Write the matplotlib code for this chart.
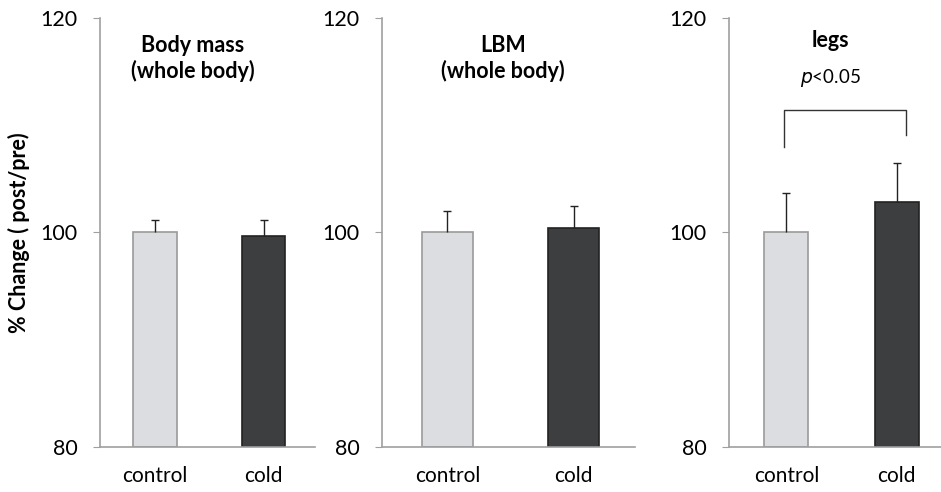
import matplotlib.pyplot as plt

plt.rcParams['font.family'] = ['Lato', 'DejaVu Sans']

# data
groups = ['control', 'cold']
panel_titles = ['Body mass\n(whole body)', 'LBM\n(whole body)', 'legs']
control_mean = [100.0, 100.0, 100.0]
cold_mean = [99.7, 100.45, 102.8]
control_err = [1.2, 2.0, 3.65]
cold_err = [1.45, 2.05, 3.7]

# layout (figure fractions) and x limits per panel
lefts = [0.1063, 0.406, 0.7747]
widths = [0.2285, 0.269, 0.2253]
xlims = [(-0.507, 1.475), (-0.517, 1.487), (-0.52, 1.40)]
title_x = [0.35, 0.44, 0.395]
title_y = [116.2, 116.2, 117.9]

colors = ['#dcdde0', '#3d3e40']
edges = ['#9a9a9a', '#222222']
spine = '#a0a0a0'

fig = plt.figure(figsize=(9.41, 4.92), dpi=100)

for i in range(3):
    ax = fig.add_axes([lefts[i], 0.0915, widths[i], 0.872])
    means = [control_mean[i], cold_mean[i]]
    errs = [control_err[i], cold_err[i]]
    ax.bar([0, 1], [m - 80 for m in means], bottom=80, width=0.4,
           color=colors, edgecolor=edges, linewidth=1.2, zorder=2)
    eb = ax.errorbar([0, 1], means, yerr=[[0, 0], errs], fmt='none',
                     ecolor='#222222', elinewidth=1, capsize=3, capthick=1,
                     zorder=3)
    eb[1][0].set_visible(False)  # hide the lower cap
    ax.set_xlim(*xlims[i])
    ax.set_ylim(80, 120)
    ax.set_yticks([80, 100, 120])
    ax.set_xticks([0, 1])
    ax.set_xticklabels(groups, fontsize=15)
    ax.tick_params(axis='x', length=0, pad=14)
    ax.tick_params(axis='y', length=5, color=spine, labelsize=15.5, pad=11)
    for s in ['top', 'right']:
        ax.spines[s].set_visible(False)
    for s in ['left', 'bottom']:
        ax.spines[s].set_color(spine)
        ax.spines[s].set_linewidth(1.2)
    ax.spines['bottom'].set_zorder(4)
    ax.text(title_x[i], title_y[i], panel_titles[i], ha='center', va='center',
            fontsize=15.5, fontweight='bold', linespacing=1.2)
    if i == 0:
        ax.set_ylabel('% Change ( post/pre)', fontsize=15.5, fontweight='bold',
                      labelpad=8)

# significance bracket on the legs panel
ax = fig.axes[2]
ax.plot([-0.02, -0.02, 1.08, 1.08], [108.0, 111.45, 111.45, 109.1],
        color='#333333', lw=1)
ax.text(0.395, 114.4, r'$p$<0.05', ha='center', va='center', fontsize=13.5)

fig.savefig('out.png', dpi=100)
